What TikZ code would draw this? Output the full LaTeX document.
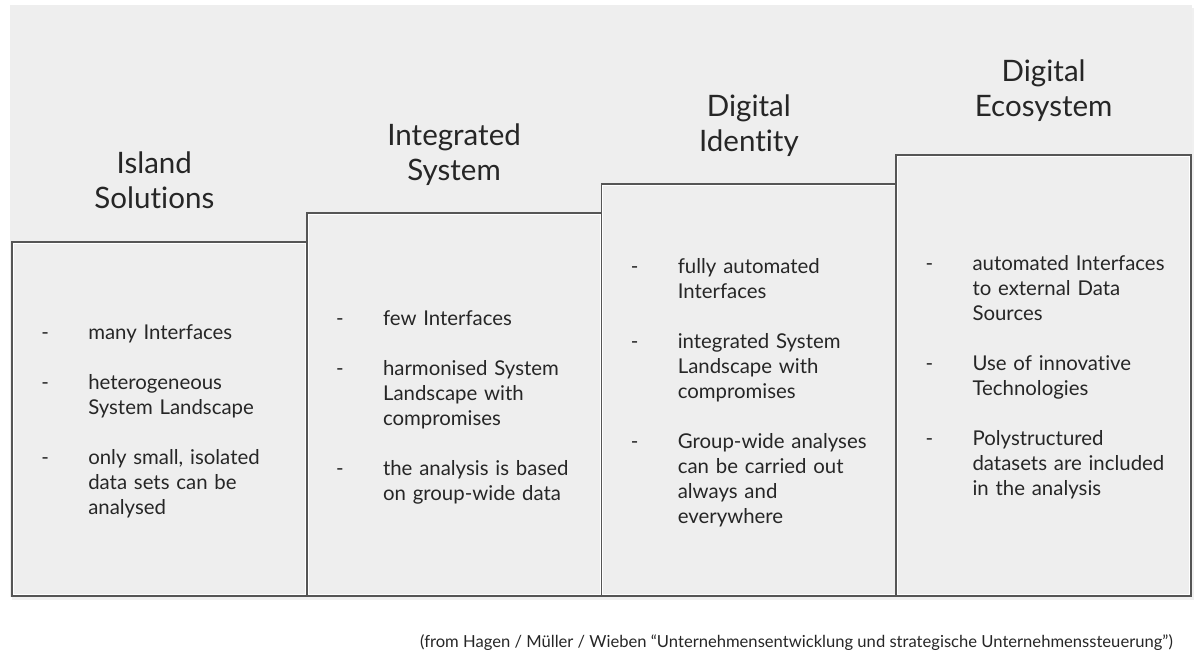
\documentclass[tikz,border=0pt]{standalone}
\usepackage{fontspec}
\setmainfont{Lato}[Ligatures=NoCommon]
\usetikzlibrary{positioning}

\newlength{\pxl}
\setlength{\pxl}{0.025cm}
\newcommand{\px}{0.025cm}
\newcommand{\bitem}[1]{\par\noindent\makebox[47\pxl][l]{-}\parbox[t]{230\pxl}{\raggedright\strut #1\strut}\par\prevdepth=\dp\strutbox}
\newcommand{\itemgap}{\vspace{25\pxl}}

\definecolor{panelgray}{HTML}{EEEEEE}
\definecolor{edgegray}{HTML}{555555}

\begin{document}
\begin{tikzpicture}[
    x=0.025cm, y=-0.025cm,
    box style/.style={draw=edgegray, line width=1.4pt, fill=panelgray, anchor=north west, minimum width=294.75*\px, inner sep=0pt},
    title style/.style={align=center, font=\fontsize{21}{25}\selectfont, text=black!85},
    text style/.style={anchor=west, inner sep=0pt, text width=275*\px, font=\fontsize{14.5}{17.8}\selectfont, text=black!85},
    caption style/.style={anchor=east, inner sep=0pt, font=\fontsize{11.8}{13}\selectfont, text=black!85}
]

\useasboundingbox (0,0) rectangle (1200,663);

% Draw the background panel
\fill[black!6] (12,8) rectangle (1194,600);
\fill[panelgray] (10,5) rectangle (1192,597);

% Draw the four steps
\foreach \i/\top in {1/241,2/212,3/183,4/154} {
    \node[box style, minimum height=(595-\top)*\px] (b\i) at ({11+(\i-1)*294.75},\top) {};
    \draw[white, line width=0.6pt] ([shift={(1.6pt,-1.6pt)}]b\i.north west) rectangle ([shift={(-1.6pt,1.6pt)}]b\i.south east);
}

% Add the titles
\node[title style] (h1) at ([xshift=-5*\px, yshift=61*\px]b1.north) {Island\\Solutions};
\node[title style] (h2) at ([yshift=57*\px]b2.north) {Integrated\\System};
\node[title style] (h3) at ([yshift=57*\px]b3.north) {Digital\\Identity};
\node[title style] (h4) at ([yshift=63*\px]b4.north) {Digital\\Ecosystem};

% Add the lists
\node[text style] (t1) at ([xshift=30*\px, yshift=1*\px]b1.west) {
    \bitem{many Interfaces}\itemgap
    \bitem{heterogeneous\\System Landscape}\itemgap
    \bitem{only small, isolated\\data sets can be\\analysed}};
\node[text style] (t2) at ([xshift=30*\px]b2.west) {
    \bitem{few Interfaces}\itemgap
    \bitem{harmonised System\\Landscape with\\compromises}\itemgap
    \bitem{the analysis is based\\on group-wide data}};
\node[text style] (t3) at ([xshift=30*\px]b3.west) {
    \bitem{fully automated\\Interfaces}\itemgap
    \bitem{integrated System\\Landscape with\\compromises}\itemgap
    \bitem{Group-wide analyses\\can be carried out\\always and\\everywhere}};
\node[text style] (t4) at ([xshift=30*\px, yshift=1*\px]b4.west) {
    \bitem{automated Interfaces\\to external Data\\Sources}\itemgap
    \bitem{Use of innovative\\Technologies}\itemgap
    \bitem{Polystructured\\datasets are included\\in the analysis}};

% Add the source
\node[caption style] (src) at (1173,643) {(from Hagen / Müller / Wieben “Unternehmensentwicklung und strategische Unternehmenssteuerung”)};

\end{tikzpicture}
\end{document}
